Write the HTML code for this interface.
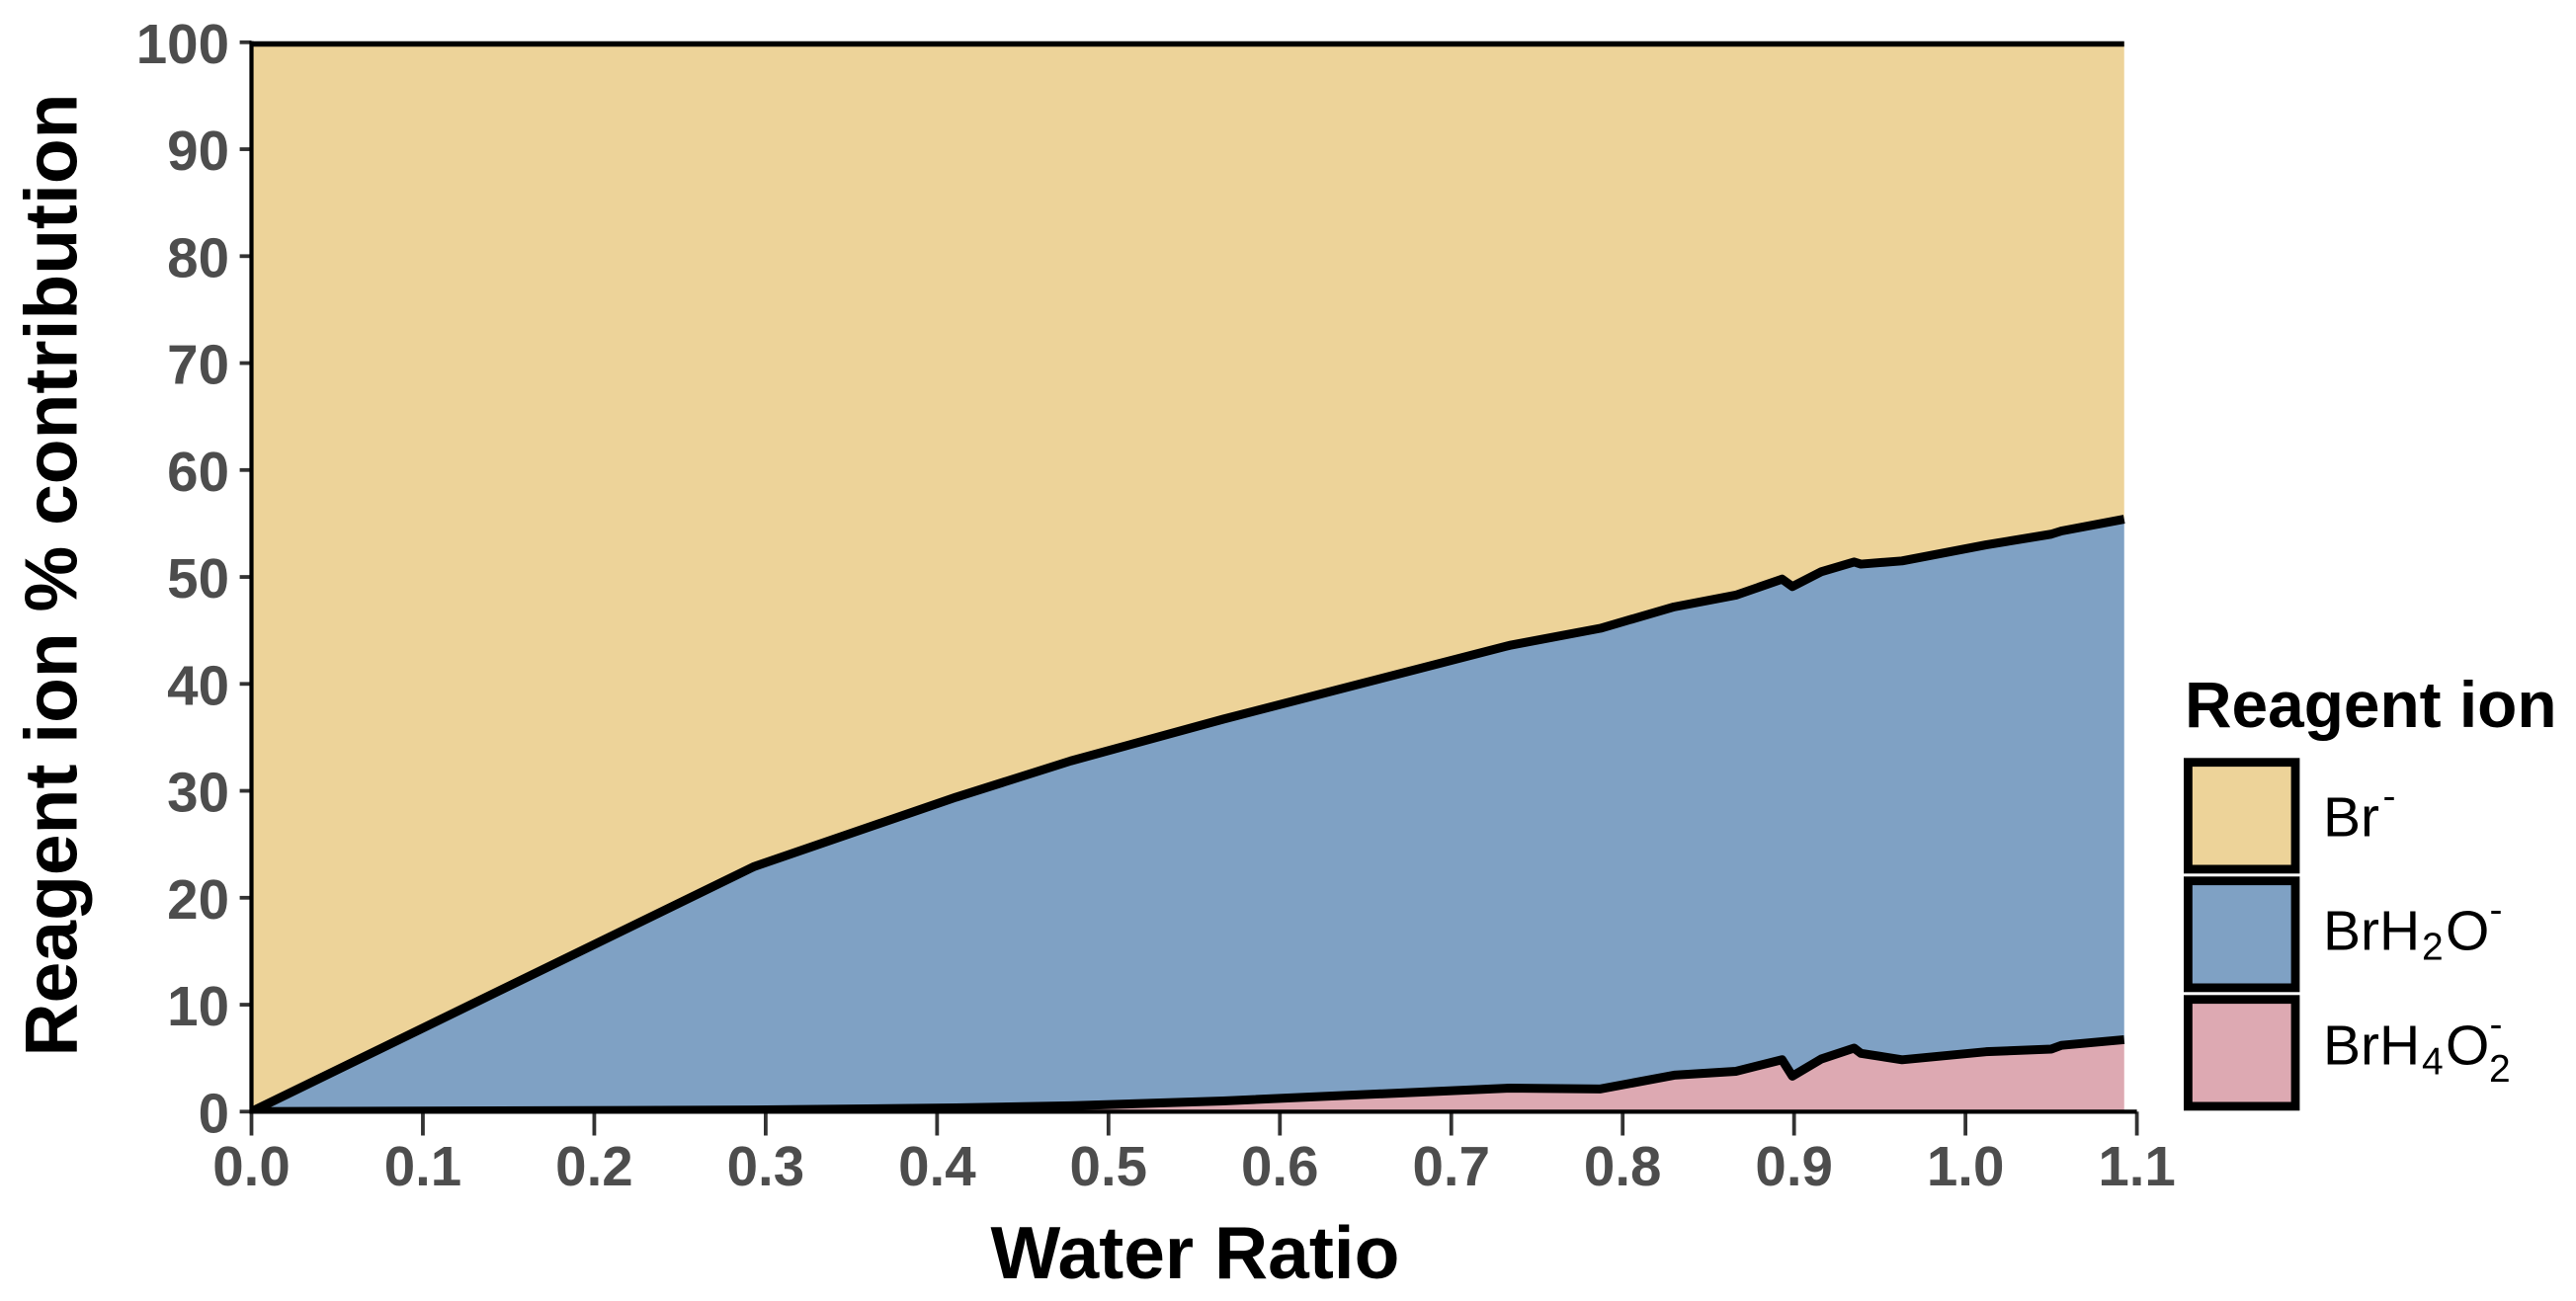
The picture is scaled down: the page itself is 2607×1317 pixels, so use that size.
<!DOCTYPE html>
<html lang="en">
<head>
<meta charset="utf-8">
<title>Reagent ion % contribution vs Water Ratio</title>
<style>
  html, body { margin: 0; padding: 0; background: #ffffff; }
  body { width: 2607px; height: 1317px; overflow: hidden; }
  svg { display: block; font-family: "Liberation Sans", Arial, sans-serif; }
  .tick-label { font-weight: 700; font-size: 56.5px; fill: #4d4d4d; }
  .axis-title { font-weight: 700; font-size: 75px; fill: #000000; }
  .legend-label { font-size: 57px; fill: #000000; }
  .legend-small { font-size: 39px; fill: #000000; }
</style>
</head>
<body>
<svg id="chart" xmlns="http://www.w3.org/2000/svg" width="2607" height="1317" viewBox="0 0 2607 1317">
  <rect x="0" y="0" width="2607" height="1317" fill="#ffffff"/>
  <defs>
    <clipPath id="panel-clip"><rect x="254.5" y="41.7" width="1908.1" height="1083.6"/></clipPath>
  </defs>
  <g id="areas" clip-path="url(#panel-clip)"></g>
  <g id="ticks"></g>
  <line x1="254.5" y1="41.6" x2="254.5" y2="1127.5" stroke="#000000" stroke-width="4.2"/>
  <line x1="252.4" y1="1125.4" x2="2162.6" y2="1125.4" stroke="#000000" stroke-width="4.2"/>
  <text class="axis-title" x="1209.5" y="1294" text-anchor="middle">Water Ratio</text>
  <text class="axis-title" transform="translate(77.5 582) rotate(-90)" text-anchor="middle">Reagent ion % contribution</text>

  <g>
    <text x="2211" y="736" font-size="65.8" font-weight="700" fill="#000000">Reagent ion</text>

    <rect x="2214.4" y="771.7" width="108.6" height="108.2" fill="#edd399" stroke="#000000" stroke-width="8.8"/>
    <rect x="2214.4" y="891.7" width="108.6" height="108.2" fill="#7fa1c4" stroke="#000000" stroke-width="8.8"/>
    <rect x="2214.4" y="1011.7" width="108.6" height="108.2" fill="#dda9b2" stroke="#000000" stroke-width="8.8"/>

    <g>
      <text class="legend-label" x="2351" y="846.7">Br</text>
      <text class="legend-small" x="2411.5" y="819">-</text>
    </g>
    <g>
      <text class="legend-label" x="2351" y="961.7">BrH</text>
      <text class="legend-small" x="2451" y="971.7">2</text>
      <text class="legend-label" x="2475" y="961.7">O</text>
      <text class="legend-small" x="2519.5" y="934">-</text>
    </g>
    <g>
      <text class="legend-label" x="2351" y="1077.7">BrH</text>
      <text class="legend-small" x="2451" y="1087.7">4</text>
      <text class="legend-label" x="2475" y="1077.7">O</text>
      <text class="legend-small" x="2519.5" y="1050">-</text>
      <text class="legend-small" x="2519" y="1095">2</text>
    </g>
  </g>
</svg>
<script>
// Chart data
const waterRatio = [0, 0.293, 0.411, 0.478, 0.567, 0.734, 0.787, 0.83, 0.866, 0.893, 0.899, 0.916, 0.935, 0.939, 0.963, 1.012, 1.05, 1.056, 1.0926];
const brPct = [100, 77.1, 70.6, 67.2, 63.3, 56.4, 54.8, 52.8, 51.7, 50.2, 50.9, 49.5, 48.6, 48.8, 48.5, 47.0, 46.0, 45.7, 44.6];
const brH2OPct = [0, 22.75, 29.05, 32.25, 35.7, 41.4, 43.08, 43.79, 44.53, 44.95, 45.78, 45.57, 45.46, 45.75, 46.65, 47.4, 48.15, 48.1, 48.67];
const brH4O2Pct = [0, 0.15, 0.35, 0.55, 1.0, 2.2, 2.12, 3.41, 3.77, 4.85, 3.32, 4.93, 5.94, 5.45, 4.85, 5.6, 5.85, 6.2, 6.73];
const xTickValues = [0, 0.1, 0.2, 0.3, 0.4, 0.5, 0.6, 0.7, 0.8, 0.9, 1.0, 1.1];
const xTickLabels = ["0.0", "0.1", "0.2", "0.3", "0.4", "0.5", "0.6", "0.7", "0.8", "0.9", "1.0", "1.1"];
const yTickValues = [0, 10, 20, 30, 40, 50, 60, 70, 80, 90, 100];
const yTickLabels = ["0", "10", "20", "30", "40", "50", "60", "70", "80", "90", "100"];

const SVG_NS = "http://www.w3.org/2000/svg";
function xScale(v) { return 254.5 + (v / 1.1) * 1908.1; }
function yScale(v) { return 1125.3 - v * 10.825; }
function make(tag) { return document.createElementNS(SVG_NS, tag); }

const areasGroup = document.getElementById("areas");
const ticksGroup = document.getElementById("ticks");

function drawBand(lower, upper, fill, areaName, lineName) {
  let d = "";
  upper.forEach(function (v, i) { d += (i ? "L" : "M") + xScale(waterRatio[i]).toFixed(2) + " " + yScale(v).toFixed(2); });
  const lineD = d;
  for (let i = lower.length - 1; i >= 0; i--) { d += "L" + xScale(waterRatio[i]).toFixed(2) + " " + yScale(lower[i]).toFixed(2); }
  d += "Z";
  const area = make("path");
  area.setAttribute("d", d);
  area.setAttribute("fill", fill);
  
  
  areasGroup.appendChild(area);
  const line = make("path");
  line.setAttribute("d", lineD);
  line.setAttribute("fill", "none");
  line.setAttribute("stroke", "#000000");
  line.setAttribute("stroke-width", "9");
  line.setAttribute("stroke-linejoin", "round");
  line.setAttribute("stroke-linecap", "butt");
  
  
  areasGroup.appendChild(line);
}

const stackPink = brH4O2Pct.slice();
const stackBlue = brH2OPct.map(function (v, i) { return v + brH4O2Pct[i]; });
const stackTan = brPct.map(function (v, i) { return v + stackBlue[i]; });
const baseline = waterRatio.map(function () { return 0; });

drawBand(stackBlue, stackTan, "#edd399", "area-br", "outline-br");
drawBand(stackPink, stackBlue, "#7fa1c4", "area-brh2o", "outline-brh2o");
drawBand(baseline, stackPink, "#dda9b2", "area-brh4o2", "outline-brh4o2");

xTickValues.forEach(function (v, i) {
  const t = make("line");
  t.setAttribute("x1", xScale(v));
  t.setAttribute("x2", xScale(v));
  t.setAttribute("y1", 1125.3);
  t.setAttribute("y2", 1149.5);
  t.setAttribute("stroke", "#333333");
  t.setAttribute("stroke-width", "3.8");
  
  
  ticksGroup.appendChild(t);
  const label = make("text");
  label.setAttribute("class", "tick-label");
  label.setAttribute("x", xScale(v));
  label.setAttribute("y", 1200);
  label.setAttribute("text-anchor", "middle");
  
  
  label.textContent = xTickLabels[i];
  ticksGroup.appendChild(label);
});

yTickValues.forEach(function (v, i) {
  const t = make("line");
  t.setAttribute("x1", 242.6);
  t.setAttribute("x2", 254.5);
  t.setAttribute("y1", yScale(v));
  t.setAttribute("y2", yScale(v));
  t.setAttribute("stroke", "#333333");
  t.setAttribute("stroke-width", "3.8");
  
  
  ticksGroup.appendChild(t);
  const label = make("text");
  label.setAttribute("class", "tick-label");
  label.setAttribute("x", 232);
  label.setAttribute("y", yScale(v) + 21);
  label.setAttribute("text-anchor", "end");
  
  
  label.textContent = yTickLabels[i];
  ticksGroup.appendChild(label);
});
</script>
</body>
</html>
